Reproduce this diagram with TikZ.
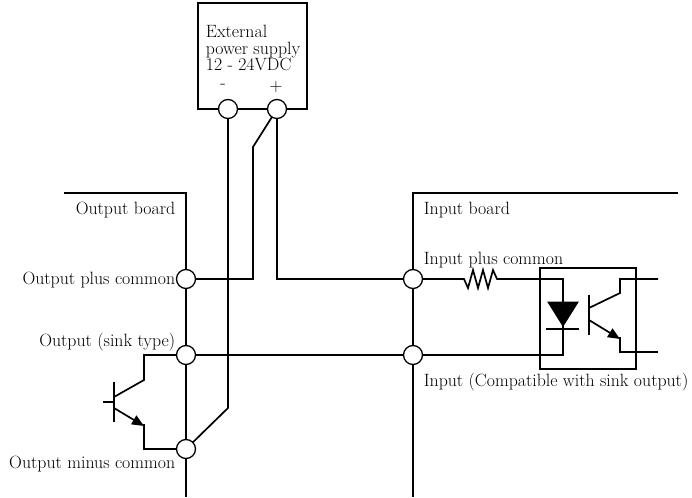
\documentclass[tikz,border=0pt]{standalone}
\usetikzlibrary{calc,arrows.meta}

\begin{document}
\begin{tikzpicture}[x=1pt, y=-1pt, line width=1.7pt,
    font=\fontsize{17.8}{16.5}\selectfont,
    term/.style={draw, shape=circle, fill=white, minimum size=19pt, inner sep=0pt, line width=1.3pt},
    lbl/.style={inner sep=0pt},
    emit/.style={-{Triangle[length=12pt, width=10pt]}}]

    \useasboundingbox (0,0) rectangle (692,497);

    % external power supply
    \path[draw] (198,3) rectangle (307,109);
    \foreach \txt [count=\i] in {External, power supply, 12 - 24VDC}
        \node[lbl, anchor=base west] (ps\i) at (205,21.5+16.5*\i) {\txt};
    \node[lbl] (psminus) at (223,86) {-};
    \node[lbl] (psplus) at (276,87) {+};

    % boards
    \path[draw] (64,193) -- (186,193) -- (186,497);
    \path[draw] (678,193) -- (413,193) -- (413,497);
    \node[lbl, anchor=base east] at (176,214) {Output board};
    \node[lbl, anchor=base west] at (423,214) {Input board};

    % terminals
    \coordinate (pneg) at (228,109);
    \coordinate (ppos) at (277,109);
    \coordinate (outpc) at (186,279);
    \coordinate (outsink) at (186,355);
    \coordinate (outmc) at (186,449);
    \coordinate (inpc) at (413,279);
    \coordinate (insink) at (413,355);

    % supply wiring
    \path[draw] (pneg) -- (228,408) -- (outmc);
    \path[draw] (ppos) -- (277,279) -- (inpc);
    \path[draw] (ppos) -- (253,147) -- (253,279) -- (outpc);
    \path[draw] (outsink) -- (insink);

    % output transistor (sink type)
    \path[draw] (outsink) -- (144,355) -- (144,380) -- (114,397);
    \path[draw] (114,382) -- (114,422);
    \path[draw] (103,402) -- (114,402);
    \path[draw, emit] (114,408) -- (144,426);
    \path[draw] (144,424) -- (144,449) -- (outmc);

    % input resistor and photocoupler
    \path[draw] (inpc) -- (464,279) -- (468,288) -- (473,270) -- (478,288) -- (483,270)
        -- (488,288) -- (493,270) -- (497,279) -- (563,279) -- (563,355) -- (insink);
    \path[draw] (540,268) rectangle (636,369);
    \path[draw, fill=black, line width=1pt] (548,302) -- (578,302) -- (563,326) -- cycle;
    \path[draw] (546,329) -- (579,329);
    \path[draw] (589,295) -- (589,335);
    \path[draw] (589,308) -- (620,293) -- (620,279) -- (658,279);
    \path[draw, emit] (589,320) -- (620,339);
    \path[draw] (620,337) -- (620,352) -- (658,352);

    % terminal circles
    \foreach \t in {pneg, ppos, outpc, outsink, outmc, inpc, insink}
        \node[term] (\t c) at (\t) {};

    % labels
    \node[lbl, anchor=base east] at (176,284) {Output plus common};
    \node[lbl, anchor=base east] at (176,346) {Output (sink type)};
    \node[lbl, anchor=base east] at (176,468) {Output minus common};
    \node[lbl, anchor=base west] at (423,264) {Input plus common};
    \node[lbl, anchor=base west] at (423,386) {Input (Compatible with sink output)};

\end{tikzpicture}
\end{document}
